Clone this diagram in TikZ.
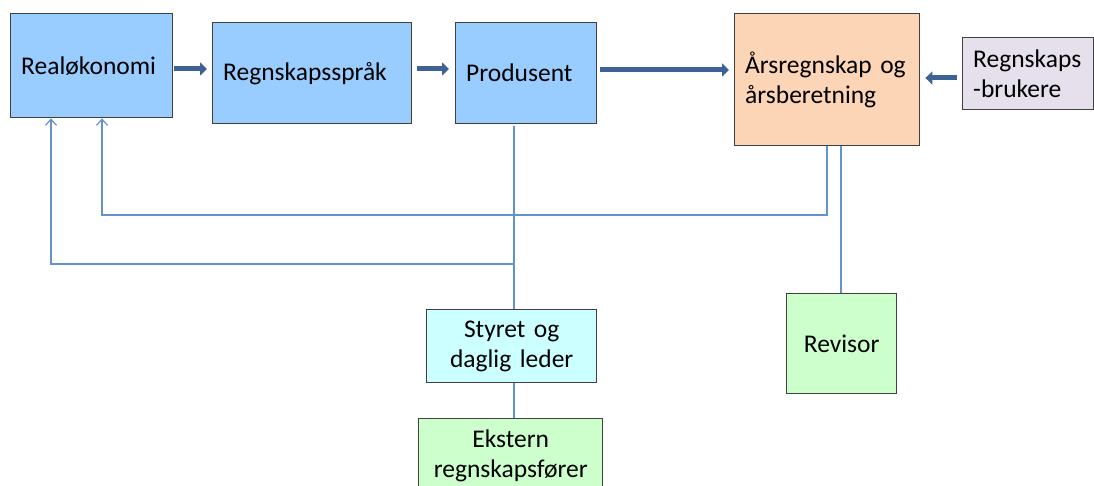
\documentclass[tikz,border=0pt]{standalone}
\usepackage{fontspec}
\setmainfont{Carlito}
\usetikzlibrary{arrows.meta}

\definecolor{boxline}{RGB}{64,64,64}
\definecolor{fillblue}{RGB}{153,204,255}
\definecolor{fillpeach}{RGB}{251,213,181}
\definecolor{filllilac}{RGB}{229,224,236}
\definecolor{fillcyan}{RGB}{204,255,255}
\definecolor{fillgreen}{RGB}{204,255,204}
\definecolor{flowblue}{RGB}{62,98,150}
\definecolor{linkblue}{RGB}{100,145,208}

\tikzset{
  boxbase/.style={draw=boxline, line width=1.4pt, rectangle, anchor=north west,
    font=\fontsize{25.5}{29.5}\selectfont, inner ysep=0pt},
  topbox/.style n args={3}{boxbase, fill=#1, inner xsep=10.5pt,
    text width=#2-21pt, minimum height=#3, align=left},
  lowbox/.style n args={3}{boxbase, fill=#1, inner xsep=0pt,
    text width=#2, minimum height=#3, align=center},
  flow/.style={draw=flowblue, line width=5pt,
    -{Triangle[length=7pt,width=13pt]}},
  link/.style={draw=linkblue, line width=1.3pt},
  linkarrow/.style={link, -{Straight Barb[length=6pt,width=11pt,line width=1.2pt]}}
}

\begin{document}
\begin{tikzpicture}[x=1pt,y=-1pt]
  \useasboundingbox (0,0) rectangle (1094,486);
  \clip (0,0) rectangle (1094,486);

  % upper row
  \node[topbox={fillblue}{162pt}{104pt}] (real) at (10,13) {Realøkonomi};
  \node[topbox={fillblue}{199pt}{101pt}] (sprak) at (212,22) {Regnskapsspråk};
  \node[topbox={fillblue}{141pt}{101pt}] (prod) at (455,22) {Produsent};
  \node[topbox={fillpeach}{185pt}{132pt}] (ars) at (734,13) {Årsregnskap og\\årsberetning};
  \node[topbox={filllilac}{131pt}{72pt}] (bruk) at (962,37) {Regnskaps\\-brukere};

  % lower row (the last box runs past the lower edge)
  \node[lowbox={fillcyan}{170pt}{73pt}] (styre) at (426,309) {Styret og\\daglig leder};
  \node[lowbox={fillgreen}{110pt}{100pt}] (rev) at (786,293) {Revisor};
  \node[lowbox={fillgreen}{184pt}{74pt}] (eks) at (418,418) {Ekstern\\regnskapsfører};

  % guide coordinates for the connector routes
  \coordinate (xa) at (51,0);
  \coordinate (xb) at (102,0);
  \coordinate (xp) at (514,0);
  \coordinate (xr) at (827,0);
  \coordinate (xv) at (841,0);
  \coordinate (ya) at (0,69);
  \coordinate (yb) at (0,70);
  \coordinate (yc) at (0,78);
  \coordinate (yl) at (0,264);
  \coordinate (yu) at (0,215);

  % main flow
  \draw[flow] ([xshift=1pt]real.east |- ya) -- ([xshift=-5pt]sprak.west |- ya);
  \draw[flow] ([xshift=5pt]sprak.east |- ya) -- ([xshift=-6pt]prod.west |- ya);
  \draw[flow] ([xshift=3pt]prod.east |- yb) -- ([xshift=-5pt]ars.west |- yb);
  \draw[flow] ([xshift=-5pt]bruk.west |- yc) -- ([xshift=5pt]ars.east |- yc);

  % feedback and reporting lines
  \draw[link] ([yshift=-2pt]prod.south -| xp) -- (styre.north -| xp);
  \draw[link] (styre.south -| xp) -- (eks.north -| xp);
  \draw[linkarrow] (xp |- yl) -- (xa |- yl) -- (real.south -| xa);
  \draw[linkarrow] (ars.south -| xr) -- (xr |- yu) -- (xb |- yu) -- (real.south -| xb);
  \draw[link] (ars.south -| xv) -- (rev.north -| xv);
\end{tikzpicture}
\end{document}
